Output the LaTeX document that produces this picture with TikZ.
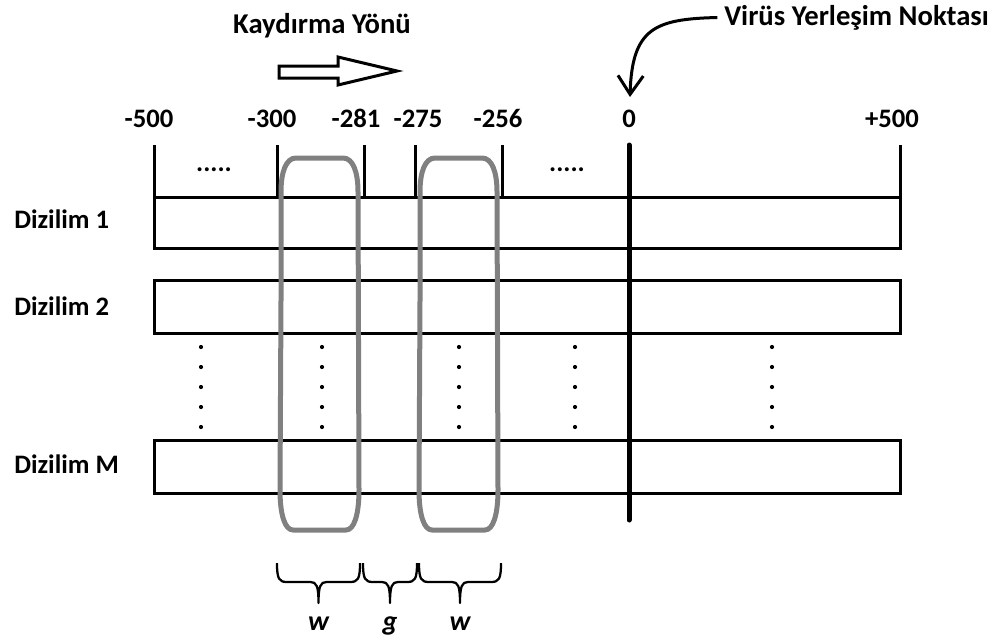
\documentclass[tikz,border=0pt]{standalone}
\usepackage{fontspec}
\setmainfont{Carlito}
\usetikzlibrary{arrows.meta}
\definecolor{winGray}{RGB}{128,128,128}
\begin{document}
\begin{tikzpicture}[x=0.75pt,y=-0.75pt,
  lbl/.style={font=\fontsize{20}{24}\selectfont\bfseries, inner sep=0pt},
  big/.style={font=\fontsize{21.5}{26}\selectfont\bfseries, inner sep=0pt},
  num/.style={lbl, anchor=base},
  wlbl/.style={font=\fontsize{21}{24}\selectfont\bfseries\itshape, inner sep=0pt, anchor=base},
  rowbox/.style={draw, line width=2.25pt},
  tickline/.style={line width=2.25pt},
  win/.style={draw=winGray, line width=3.75pt},
  brc/.style={line width=1.7pt, line join=round},
  hollow/.style={draw, line width=2.25pt, line join=miter},
  callout/.style={line width=2.25pt, shorten <=5pt, -{Straight Barb[length=14pt,width=19pt,line width=2.25pt]}}
]
\useasboundingbox (0,0) rectangle (1005,639);

% headings
\node[big, anchor=base] (title) at (322,33) {Kaydırma Yönü};
\node[big, anchor=base west] (virus) at (724,25) {Virüs Yerleşim Noktası};

% shift direction arrow (outlined)
\draw[hollow] (279,66) -- (338,66) -- (338,57) -- (397,71) -- (338,85) -- (338,78) -- (279,78) -- cycle;

% position labels
\node[num] (pm500) at (149,127) {-500};
\node[num] (pm300) at (272,127) {-300};
\node[num] (pm281) at (356,127) {-281};
\node[num] (pm275) at (418,127) {-275};
\node[num] (pm256) at (498,127) {-256};
\node[num] (pzero) at (629,127) {0};
\node[num] (pp500) at (892,127) {+500};

% callout to the insertion point
\coordinate (vtip) at (630,97);
\draw[callout] (virus.west) .. controls (655,19) and (632,28) .. (vtip);

% ticks above the first row
\foreach \x in {154,277,364,415,502,900}
  \draw[tickline] (\x,145) -- (\x,197);
\node[num] (dotsA) at (214,171) {.....};
\node[num] (dotsB) at (567,171) {.....};

% rows
\draw[rowbox] (154,197) rectangle (900,248);
\draw[rowbox] (154,280) rectangle (900,333);
\draw[rowbox] (154,440) rectangle (900,493);
\node[lbl, anchor=base west] (row1) at (14,228) {Dizilim 1};
\node[lbl, anchor=base west] (row2) at (14,315) {Dizilim 2};
\node[lbl, anchor=base west] (rowM) at (14,473) {Dizilim M};

% vertical ellipsis between rows
\foreach \x in {201,322,459,575,772}
  \foreach \y in {347,367,387,407,427}
    \fill (\x,\y) circle (2.1);

% sliding windows
\foreach \l/\r in {281/358, 420/497}{
  \draw[win] (\l,300) -- (\l,192) .. controls (\l,172) and (\l+5,158) .. (\l+15,158)
    -- (\r-15,158) .. controls (\r-5,158) and (\r,172) .. (\r,192)
    -- (\r+1,490) .. controls (\r+1,515) and (\r-4,530) .. (\r-12,530)
    -- (\l+12,530) .. controls (\l+4,530) and (\l-1,515) .. (\l-1,490) -- cycle;
}

% insertion point line
\draw[line width=3.75pt, line cap=round] (629,145) -- (629,520);

% braces with window and gap labels
\foreach \a/\b/\t/\n in {277/360/w/wA, 363/417/g/gap, 419/501/w/wB}{
  \pgfmathsetmacro\m{(\a+\b)/2}
  \draw[brc] (\a,563) .. controls (\a,579) and (\a+2,582) .. (\a+10,582)
    -- (\m-8,582) .. controls (\m-2,582) and (\m,586) .. (\m,603)
    .. controls (\m,586) and (\m+2,582) .. (\m+8,582)
    -- (\b-10,582) .. controls (\b-2,582) and (\b,579) .. (\b,563);
  \node[wlbl] (\n) at (\m,630) {\t};
}
\end{tikzpicture}
\end{document}
